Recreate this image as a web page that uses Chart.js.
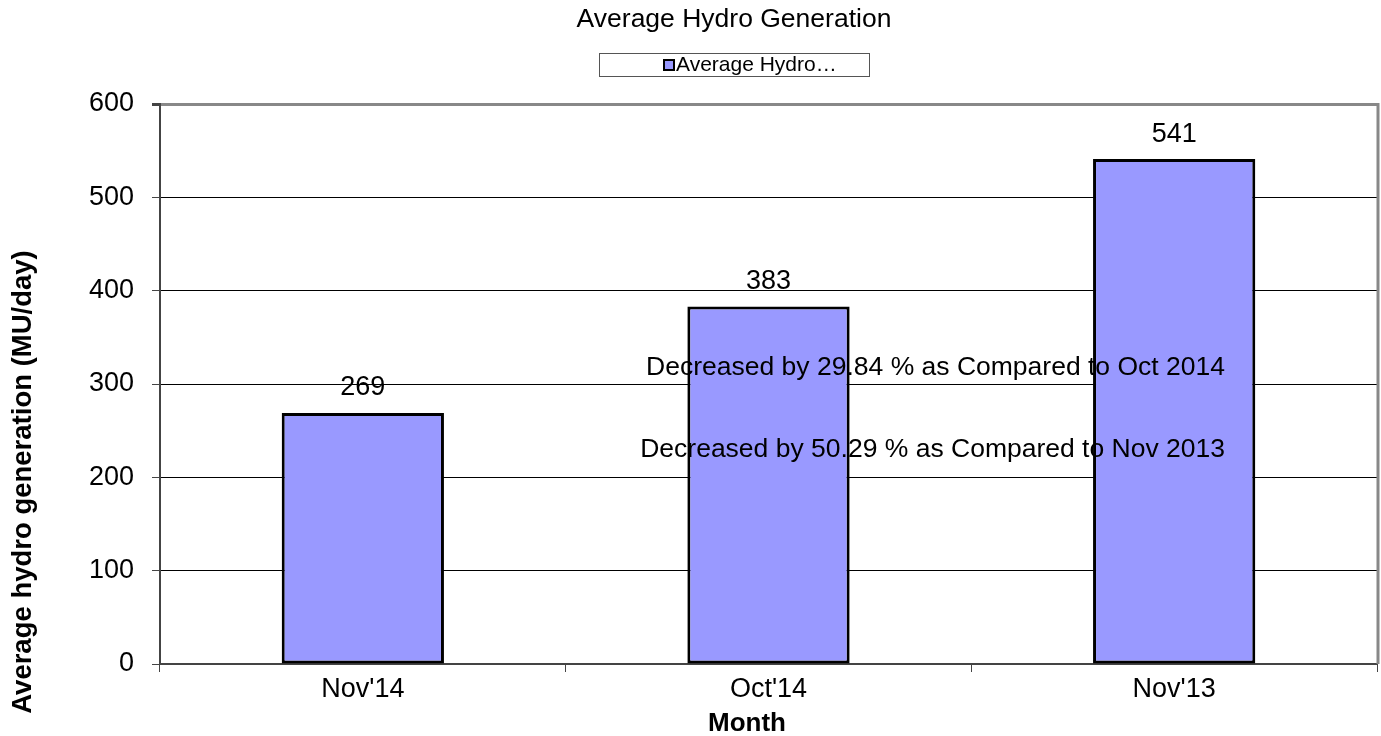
<!DOCTYPE html>
<html>
<head>
<meta charset="utf-8">
<script src="https://cdn.jsdelivr.net/npm/chart.js@4.4.1/dist/chart.umd.min.js"></script>
<style>
  html,body{margin:0;padding:0;background:#fff;}
  #wrap{width:1381px;height:736px;}
</style>
</head>
<body>
<div id="wrap"><canvas id="c" width="1381" height="736"></canvas></div>
<script>
const months = ["Nov'14","Oct'14","Nov'13"];
const hydro = [269,383,541];
const yTicks = [0,100,200,300,400,500,600];
const seriesName = "Average Hydro Generation";
const chartTitle = "Average Hydro Generation";
const legendText = "Average Hydro…";
const notes = ["Decreased by 29.84 % as Compared to Oct 2014","Decreased by 50.29 % as Compared to Nov 2013"];
const noteValues = [318,230];
const yTitle = "Average hydro generation (MU/day)";
const xTitle = "Month";

const FONT = "'Liberation Sans', Arial, sans-serif";
const BAR = "#9999ff";

// title, legend box, axis titles, value labels, notes
const decor = {
  id:"decor",
  afterDatasetsDraw(chart){
    const {ctx, chartArea:a, scales} = chart;
    ctx.save();
    ctx.fillStyle = "#000";
    ctx.textBaseline = "middle";
    // value labels
    ctx.font = "27px " + FONT;
    ctx.textAlign = "center";
    chart.getDatasetMeta(0).data.forEach((bar,i)=>{
      ctx.fillText(String(hydro[i]), bar.x, bar.y - 25);
    });
    // notes
    ctx.font = "26.5px " + FONT;
    ctx.textAlign = "right";
    notes.forEach((t,i)=> ctx.fillText(t, a.left + 1065, scales.y.getPixelForValue(noteValues[i])));
    // right border of plot
    ctx.strokeStyle = "#888"; ctx.lineWidth = 3;
    ctx.beginPath(); ctx.moveTo(a.right+1, a.top-1); ctx.lineTo(a.right+1, a.bottom); ctx.stroke();
    ctx.restore();
  },
  afterDraw(chart){
    const {ctx} = chart;
    ctx.save();
    ctx.fillStyle = "#000";
    ctx.textBaseline = "middle";
    ctx.textAlign = "center";
    ctx.font = "26.5px " + FONT;
    ctx.fillText(chartTitle, 734, 20);
    // legend box
    ctx.strokeStyle = "#555"; ctx.lineWidth = 1;
    ctx.strokeRect(599.5, 53.5, 270, 23);
    ctx.fillStyle = BAR; ctx.fillRect(664, 60, 10, 10);
    ctx.strokeStyle = "#000"; ctx.lineWidth = 2; ctx.strokeRect(664, 60, 10, 10);
    ctx.fillStyle = "#000"; ctx.textAlign = "left"; ctx.font = "21px " + FONT;
    ctx.fillText(legendText, 676, 65);
    // axis titles
    ctx.textAlign = "center";
    ctx.font = "bold 26px " + FONT;
    ctx.fillText(xTitle, 747, 724);
    ctx.translate(23, 482); ctx.rotate(-Math.PI/2);
    ctx.font = "bold 27.5px " + FONT;
    ctx.fillText(yTitle, 0, 0);
    ctx.restore();
  }
};

new Chart(document.getElementById("c"), {
  type:"bar",
  data:{labels:months, datasets:[{label:seriesName, data:hydro, backgroundColor:BAR,
    borderColor:"#000", borderWidth:3, borderSkipped:false,
    categoryPercentage:1, barPercentage:0.4}]},
  options:{
    responsive:false, animation:false,
    layout:{padding:{top:104, right:4, left:0, bottom:0}},
    plugins:{legend:{display:false}, title:{display:false}, tooltip:{enabled:false}},
    scales:{
      x:{
        grid:{offset:true, drawOnChartArea:false, tickLength:8, tickColor:"#444", tickWidth:1},
        border:{color:"#444", width:2},
        ticks:{color:"#000", font:{size:27, family:FONT}, padding:1},
        afterFit(s){ s.height = 72; }
      },
      y:{
        min:0, max:600,
        afterBuildTicks(s){ s.ticks = yTicks.map(v=>({value:v})); },
        grid:{color:c=> c.tick && c.tick.value===600 ? "#888" : "#000",
              lineWidth:c=> c.tick && c.tick.value===600 ? 3 : 1,
              tickLength:8, tickColor:"#444"},
        border:{color:"#444", width:2},
        ticks:{color:"#000", font:{size:27, family:FONT}, padding:18},
        afterFit(s){ s.width = 160; }
      }
    }
  },
  plugins:[decor]
});
</script>
</body>
</html>
